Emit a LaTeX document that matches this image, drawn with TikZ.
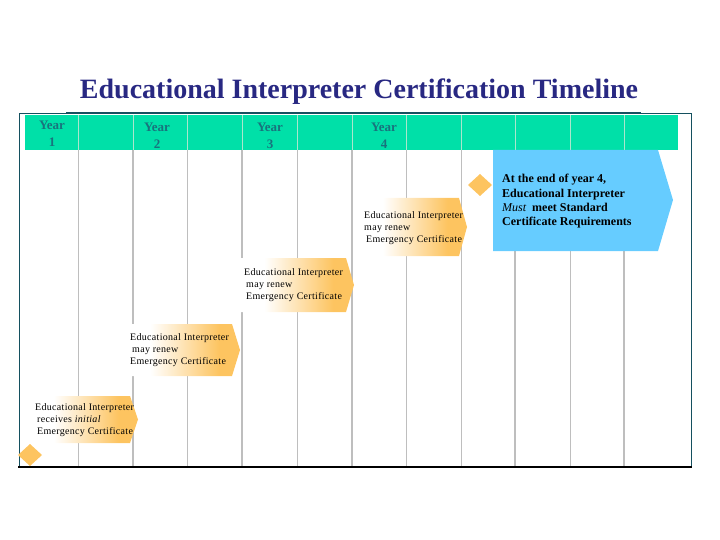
\documentclass[tikz,border=0pt]{standalone}
\usepackage{fontspec}
\setmainfont{Liberation Serif}
\newfontfamily\labfont[LetterSpace=3]{Liberation Serif}
\definecolor{barg}{RGB}{0,224,168}
\definecolor{yeart}{RGB}{25,115,125}
\definecolor{titlec}{RGB}{40,40,130}
\definecolor{framet}{RGB}{20,80,95}
\definecolor{orfill}{RGB}{253,196,96}
\definecolor{bluef}{RGB}{102,204,255}
\definecolor{gridg}{RGB}{190,190,190}
\definecolor{gridb}{RGB}{170,230,205}
\pgfdeclarehorizontalshading{orfade}{100bp}{color(0bp)=(white); color(25bp)=(white); color(36bp)=(white); color(66bp)=(orfill); color(100bp)=(orfill)}
\tikzset{
  yearlab/.style={font=\fontsize{13}{17}\selectfont\bfseries, text=yeart, align=center, inner sep=0pt},
  evlab/.style={font=\labfont\fontsize{10}{12}\selectfont, align=left, anchor=west, inner sep=0pt},
  gridthin/.style={draw=gridg, line width=1pt},
  gridthick/.style={draw=gridg, line width=1.6pt},
  diam/.style={fill=orfill, draw=none},
}
\begin{document}
\begin{tikzpicture}[x=1pt,y=-1pt]
\useasboundingbox (0,0) rectangle (720,540);
% title
\node[font=\fontsize{28}{32}\selectfont\bfseries, text=titlec, inner sep=0pt, anchor=base] (title) at (359,98.5) {Educational Interpreter Certification Timeline};
% grid lines
\foreach \x in {78,187,297,406,461,570}{\draw[gridthin] (\x,150) -- (\x,467);}
\foreach \x in {133,242,352,515,624}{\draw[gridthick] (\x,150) -- (\x,467);}
% green bar
\fill[barg] (25,115) rectangle (678,150);
\foreach \x in {78,133,187,242,297,352,406,461,515,570,624}{\draw[draw=gridb, line width=1pt] (\x,115) -- (\x,150);}
% frame
\draw[framet, line width=1pt] (19,467) -- (19,114) -- (691,114) -- (691,467);
\draw[framet, line width=1.6pt] (66,113.3) -- (641,113.3);
\draw[black, line width=2pt] (18,467) -- (692,467);
% year labels
\node[yearlab] (y1) at (52,134) {Year\\1};
\node[yearlab] (y2) at (157,135.5) {Year\\2};
\node[yearlab] (y3) at (270,135.5) {Year\\3};
\node[yearlab] (y4) at (384,135.5) {Year\\4};
% event pentagons
\shade[shading=orfade] (30,396) -- (130,396) -- (138,419.5) -- (130,443) -- (30,443) -- cycle;
\shade[shading=orfade] (125,324) -- (232,324) -- (240,350) -- (232,376) -- (125,376) -- cycle;
\shade[shading=orfade] (239,258) -- (346,258) -- (354,285) -- (346,312) -- (239,312) -- cycle;
\shade[shading=orfade] (359,198) -- (459,198) -- (467,227) -- (459,256) -- (359,256) -- cycle;
\node[evlab] (e1) at (35,420) {Educational Interpreter\\\hspace{2pt}receives \textit{initial}\\\hspace{2pt}Emergency Certificate};
\node[evlab] (e2) at (130,350.5) {Educational Interpreter\\\hspace{2pt}may renew\\Emergency Certificate};
\node[evlab] (e3) at (244,285.5) {Educational Interpreter\\\hspace{2pt}may renew\\\hspace{2pt}Emergency Certificate};
\node[evlab] (e4) at (364,228) {Educational Interpreter\\may renew\\\hspace{2pt}Emergency Certificate};
% diamonds
\fill[diam] (30,444) -- (42,455) -- (30,466) -- (18,455) -- cycle;
\fill[diam] (480,174) -- (492,185) -- (480,196) -- (468,185) -- cycle;
% final requirement
\fill[bluef] (493,150) -- (658,150) -- (673,200) -- (658,251) -- (493,251) -- cycle;
\node[font=\fontsize{12}{14.3}\selectfont\bfseries, align=left, anchor=west, inner sep=0pt] (req) at (502,201.5) {At the end of year 4,\\Educational Interpreter\\{\mdseries\itshape Must}\ \ meet Standard\\Certificate Requirements};
\end{tikzpicture}
\end{document}
